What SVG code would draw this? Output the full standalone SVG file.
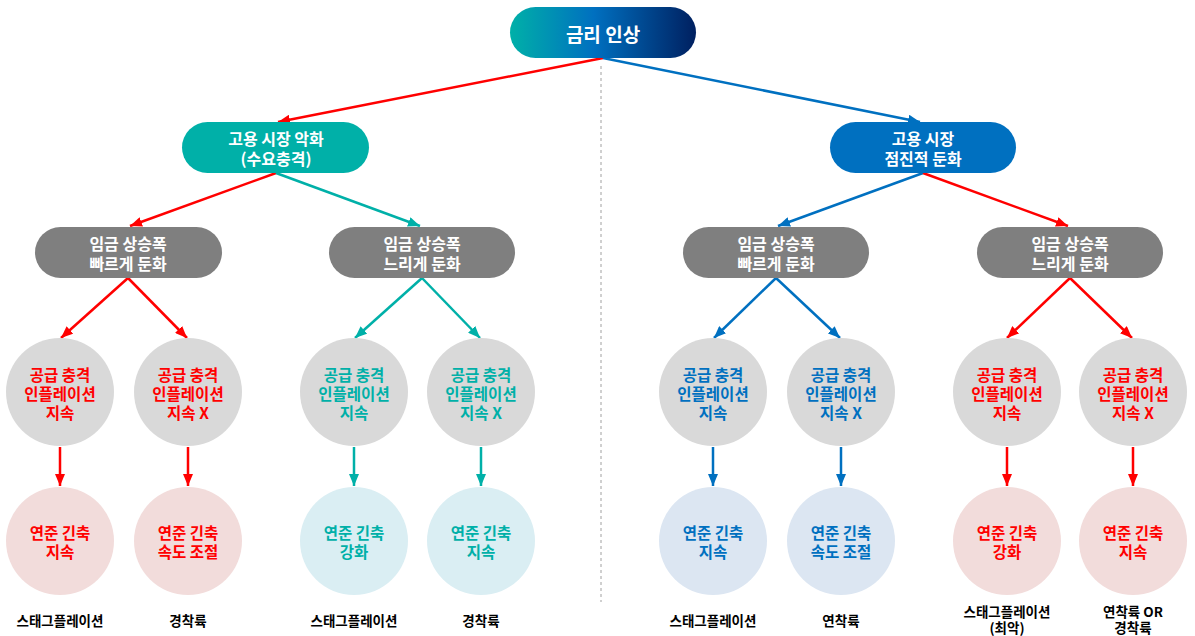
<svg xmlns="http://www.w3.org/2000/svg" width="1195" height="636" viewBox="0 0 1195 636">
<defs>
<linearGradient id="g1" x1="0" y1="0" x2="1" y2="0">
<stop offset="0" stop-color="#00B0A8"/>
<stop offset="0.45" stop-color="#0070C0"/>
<stop offset="1" stop-color="#002060"/>
</linearGradient>
<marker id="ar" viewBox="0 0 12 10" refX="12" refY="5" markerWidth="12" markerHeight="10" markerUnits="userSpaceOnUse" orient="auto"><path d="M0,0 L12,5 L0,10 z" fill="#FF0000"/></marker>
<marker id="at" viewBox="0 0 12 10" refX="12" refY="5" markerWidth="12" markerHeight="10" markerUnits="userSpaceOnUse" orient="auto"><path d="M0,0 L12,5 L0,10 z" fill="#00B0A8"/></marker>
<marker id="ab" viewBox="0 0 12 10" refX="12" refY="5" markerWidth="12" markerHeight="10" markerUnits="userSpaceOnUse" orient="auto"><path d="M0,0 L12,5 L0,10 z" fill="#0070C0"/></marker>
</defs>
<style>
text{font-family:"Noto Sans CJK KR","Noto Sans",sans-serif;font-weight:bold;text-anchor:middle;dominant-baseline:central}
.w{fill:#FFFFFF;font-size:16px}
.c{font-size:15.5px}
.lb{font-size:13.5px;fill:#000000}
.r{fill:#FF0000}.t{fill:#00B0A8}.b{fill:#0070C0}
.er{stroke:#FF0000;stroke-width:2.5;fill:none;marker-end:url(#ar)}
.et{stroke:#00B0A8;stroke-width:2.5;fill:none;marker-end:url(#at)}
.eb{stroke:#0070C0;stroke-width:2.5;fill:none;marker-end:url(#ab)}
.gc{fill:#D9D9D9}.pc{fill:#F2DCDB}.tc{fill:#DAEEF3}.bc{fill:#DCE6F2}
.gn{fill:#7F7F7F}
</style>
<rect width="1195" height="636" fill="#FFFFFF"/>
<line x1="601" y1="66" x2="601" y2="602" stroke="#A0A0A0" stroke-width="1" stroke-dasharray="3,3"/>
<g id="connectors">
<line class="er" x1="603" y1="58" x2="278" y2="122"/>
<line class="eb" x1="603" y1="58" x2="920" y2="122"/>
<line class="er" x1="276" y1="173" x2="130" y2="226"/>
<line class="et" x1="276" y1="173" x2="420" y2="226"/>
<line class="eb" x1="923" y1="173" x2="778" y2="226"/>
<line class="er" x1="923" y1="173" x2="1068" y2="226"/>
<line class="er" x1="128" y1="278" x2="61" y2="338"/>
<line class="er" x1="128" y1="278" x2="187" y2="338"/>
<line class="et" x1="422" y1="278" x2="355" y2="338"/>
<line class="et" x1="422" y1="278" x2="480" y2="338"/>
<line class="eb" x1="776" y1="278" x2="714" y2="338"/>
<line class="eb" x1="776" y1="278" x2="840" y2="338"/>
<line class="er" x1="1070" y1="278" x2="1007" y2="338"/>
<line class="er" x1="1070" y1="278" x2="1132" y2="338"/>
<line class="er" x1="60" y1="447" x2="60" y2="486"/>
<line class="er" x1="188" y1="447" x2="188" y2="486"/>
<line class="et" x1="354" y1="447" x2="354" y2="486"/>
<line class="et" x1="481" y1="447" x2="481" y2="486"/>
<line class="eb" x1="713" y1="447" x2="713" y2="486"/>
<line class="eb" x1="841" y1="447" x2="841" y2="486"/>
<line class="er" x1="1007" y1="447" x2="1007" y2="486"/>
<line class="er" x1="1133" y1="447" x2="1133" y2="486"/>
</g>
<g id="n-top"><rect x="510" y="7" width="186" height="51" rx="25.5" fill="url(#g1)"/><text x="603" y="33" fill="#FFFFFF" style="font-size:19px">금리 인상</text></g>
<g id="n-left"><rect x="182" y="122" width="187" height="51" rx="25.5" fill="#00B0A8"/><text class="w" x="276" y="138">고용 시장 악화</text><text class="w" x="276" y="158">(수요충격)</text></g>
<g id="n-right"><rect x="830" y="122" width="186" height="51" rx="25.5" fill="#0070C0"/><text class="w" x="923" y="138">고용 시장</text><text class="w" x="923" y="158">점진적 둔화</text></g>
<g id="g1n"><rect class="gn" x="35" y="227" width="187" height="51" rx="25.5"/><text class="w" x="128" y="243">임금 상승폭</text><text class="w" x="128" y="263">빠르게 둔화</text></g>
<g id="g2n"><rect class="gn" x="329" y="227" width="186" height="51" rx="25.5"/><text class="w" x="422" y="243">임금 상승폭</text><text class="w" x="422" y="263">느리게 둔화</text></g>
<g id="g3n"><rect class="gn" x="683" y="227" width="186" height="51" rx="25.5"/><text class="w" x="776" y="243">임금 상승폭</text><text class="w" x="776" y="263">빠르게 둔화</text></g>
<g id="g4n"><rect class="gn" x="977" y="227" width="186" height="51" rx="25.5"/><text class="w" x="1070" y="243">임금 상승폭</text><text class="w" x="1070" y="263">느리게 둔화</text></g>
<g id="c1"><circle class="gc" cx="60" cy="392" r="54"/><text class="c r" x="60" y="374">공급 충격</text><text class="c r" x="60" y="393">인플레이션</text><text class="c r" x="60" y="412">지속</text></g>
<g id="c2"><circle class="gc" cx="188" cy="392" r="54"/><text class="c r" x="188" y="374">공급 충격</text><text class="c r" x="188" y="393">인플레이션</text><text class="c r" x="188" y="412">지속 X</text></g>
<g id="c3"><circle class="gc" cx="354" cy="392" r="54"/><text class="c t" x="354" y="374">공급 충격</text><text class="c t" x="354" y="393">인플레이션</text><text class="c t" x="354" y="412">지속</text></g>
<g id="c4"><circle class="gc" cx="481" cy="392" r="54"/><text class="c t" x="481" y="374">공급 충격</text><text class="c t" x="481" y="393">인플레이션</text><text class="c t" x="481" y="412">지속 X</text></g>
<g id="c5"><circle class="gc" cx="713" cy="392" r="54"/><text class="c b" x="713" y="374">공급 충격</text><text class="c b" x="713" y="393">인플레이션</text><text class="c b" x="713" y="412">지속</text></g>
<g id="c6"><circle class="gc" cx="841" cy="392" r="54"/><text class="c b" x="841" y="374">공급 충격</text><text class="c b" x="841" y="393">인플레이션</text><text class="c b" x="841" y="412">지속 X</text></g>
<g id="c7"><circle class="gc" cx="1007" cy="392" r="54"/><text class="c r" x="1007" y="374">공급 충격</text><text class="c r" x="1007" y="393">인플레이션</text><text class="c r" x="1007" y="412">지속</text></g>
<g id="c8"><circle class="gc" cx="1133" cy="392" r="54"/><text class="c r" x="1133" y="374">공급 충격</text><text class="c r" x="1133" y="393">인플레이션</text><text class="c r" x="1133" y="412">지속 X</text></g>
<g id="d1"><circle class="pc" cx="60" cy="541" r="54"/><text class="c r" x="60" y="532">연준 긴축</text><text class="c r" x="60" y="551">지속</text></g>
<g id="d2"><circle class="pc" cx="188" cy="541" r="54"/><text class="c r" x="188" y="532">연준 긴축</text><text class="c r" x="188" y="551">속도 조절</text></g>
<g id="d3"><circle class="tc" cx="354" cy="541" r="54"/><text class="c t" x="354" y="532">연준 긴축</text><text class="c t" x="354" y="551">강화</text></g>
<g id="d4"><circle class="tc" cx="481" cy="541" r="54"/><text class="c t" x="481" y="532">연준 긴축</text><text class="c t" x="481" y="551">지속</text></g>
<g id="d5"><circle class="bc" cx="713" cy="541" r="54"/><text class="c b" x="713" y="532">연준 긴축</text><text class="c b" x="713" y="551">지속</text></g>
<g id="d6"><circle class="bc" cx="841" cy="541" r="54"/><text class="c b" x="841" y="532">연준 긴축</text><text class="c b" x="841" y="551">속도 조절</text></g>
<g id="d7"><circle class="pc" cx="1007" cy="541" r="54"/><text class="c r" x="1007" y="532">연준 긴축</text><text class="c r" x="1007" y="551">강화</text></g>
<g id="d8"><circle class="pc" cx="1133" cy="541" r="54"/><text class="c r" x="1133" y="532">연준 긴축</text><text class="c r" x="1133" y="551">지속</text></g>
<g id="labels">
<text class="lb" x="60" y="620">스태그플레이션</text>
<text class="lb" x="188" y="620">경착륙</text>
<text class="lb" x="354" y="620">스태그플레이션</text>
<text class="lb" x="481" y="620">경착륙</text>
<text class="lb" x="713" y="620">스태그플레이션</text>
<text class="lb" x="841" y="620">연착륙</text>
<text class="lb" x="1007" y="611">스태그플레이션</text>
<text class="lb" x="1007" y="627">(최악)</text>
<text class="lb" x="1133" y="611">연착륙 OR</text>
<text class="lb" x="1133" y="627">경착륙</text>
</g>
</svg>
